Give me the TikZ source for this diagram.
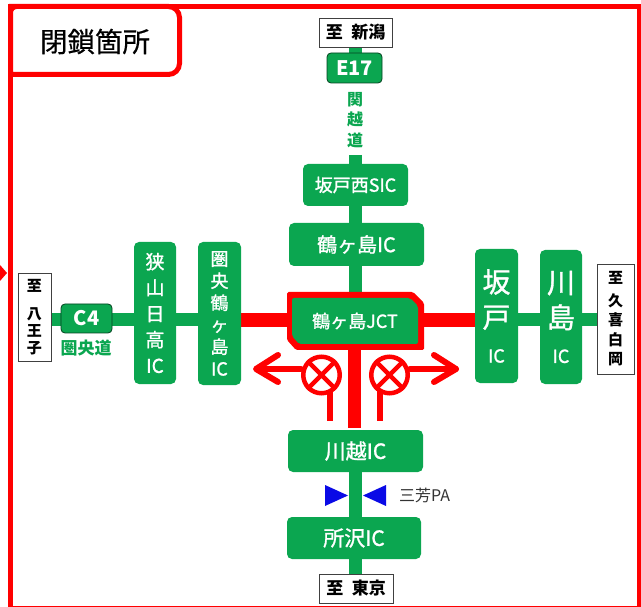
\documentclass[tikz,border=0pt]{standalone}
\usepackage{fontspec}
\setmainfont{Noto Sans CJK JP}
\newfontfamily\medfont[FakeBold=1.2]{Noto Sans CJK JP}
\newfontfamily\titlefont[FakeBold=0.5]{Noto Sans CJK JP}
\usetikzlibrary{backgrounds,arrows.meta}
\definecolor{road}{HTML}{0BA650}
\definecolor{closed}{HTML}{FF0000}
\definecolor{pa}{HTML}{0A0AE6}
\tikzset{
  x=1pt,y=-1pt,
  ic/.style={fill=road,rounded corners=5pt,text=white,inner sep=0pt,align=center,font=\medfont\fontsize{20}{22}\selectfont},
  jctlabel/.style={text=white,inner sep=0pt,align=center,font=\medfont\fontsize{18}{20}\selectfont},
  dest/.style={draw=black!75,fill=white,line width=.8pt,inner sep=0pt,align=center,text=black,font=\bfseries\fontsize{17}{18}\selectfont},
  shield/.style={fill=road,draw=black!60!road,line width=.8pt,rounded corners=4pt,text=white,inner sep=0pt,font=\bfseries\fontsize{20}{22}\selectfont},
  roadlink/.style={road,line width=13pt},
  redlink/.style={closed,line width=14pt},
  redthin/.style={closed,line width=6pt},
  redarrow/.style={closed,line width=6pt,line cap=round,line join=round},
  closure/.style={circle,draw=closed,line width=4.5pt,fill=white,minimum size=36.5pt,inner sep=0pt},
  roadname/.style={text=road,inner sep=0pt,align=center,font=\bfseries\fontsize{16}{20.5}\selectfont},
}
\newcommand{\boxat}[6]{\node[#1,minimum width=#4pt-#2pt,minimum height=#5pt-#3pt] (#6) at ({(#2+#4)/2},{(#3+#5)/2})}
\begin{document}
\begin{tikzpicture}
\useasboundingbox (0,0) rectangle (641,607);
% frame
\draw[closed,line width=5pt] (10.5,6.5) -- (639,6.5) -- (639,608) -- (10.5,608) -- cycle;
\fill[closed] (0,265) -- (7,273) -- (0,281) -- cycle;
\draw[closed,line width=5pt,fill=white,rounded corners=11pt] (10.5,74.5) -- (179.5,74.5) -- (179.5,6.5) -- (20,6.5) [rounded corners=6pt] -- (10.5,6.5) [sharp corners] -- cycle;
\node[inner sep=0pt,font=\titlefont\fontsize{27.5}{30}\selectfont,text=black] (titletext) at (95,41.5) {閉鎖箇所};

% nodes
\boxat{dest}{319}{18}{392}{47}{niigata} {至\hspace{.5em}新潟};
\boxat{shield}{327}{53}{382}{83}{e17} {E17};
\node[roadname] (kanetsu) at (355,120) {関\\越\\道};
\boxat{ic,font=\medfont\fontsize{18}{20}\selectfont}{303}{164}{408}{206}{sakadonishi} {坂戸西SIC};
\boxat{ic}{289}{223}{424}{266}{tsurugashima} {鶴ヶ島IC};
\boxat{ic,font=\medfont\fontsize{19}{26}\selectfont}{134}{242}{176}{384}{sayama} {狭\\山\\日\\高\\IC};
\boxat{ic,font=\medfont\fontsize{18}{22}\selectfont}{198}{242}{241}{385}{kenotsuru} {圏\\央\\鶴\\ヶ\\島\\IC};
\boxat{ic,font=\medfont\fontsize{28}{35}\selectfont}{475}{249}{518}{383}{sakado} {坂\\戸\\{\fontsize{18}{20}\selectfont IC}};
\boxat{ic,font=\medfont\fontsize{28}{35}\selectfont}{540}{250}{582}{384}{kawajima} {川\\島\\{\fontsize{18}{20}\selectfont IC}};
\boxat{dest,font=\bfseries\fontsize{15}{17}\selectfont}{18}{273}{51}{361}{hachioji} {至\\[11pt]八\\王\\子};
\boxat{dest,font=\bfseries\fontsize{15}{19.5}\selectfont}{597}{264}{634}{374}{kuki} {至\\[3pt]久\\喜\\白\\岡};
\boxat{shield}{61}{304}{112}{333}{c4} {C4};
\node[roadname,font=\bfseries\fontsize{17}{19}\selectfont] (kenodo) at (86,348) {圏央道};
\node[jctlabel] (jct) at (355,321) {鶴ヶ島JCT};
\boxat{ic,font=\medfont\fontsize{21}{23}\selectfont}{288}{430}{423}{472}{kawagoe} {川越IC};
\boxat{ic,font=\medfont\fontsize{21}{23}\selectfont}{287}{517}{421}{559}{tokorozawa} {所沢IC};
\boxat{dest}{319}{574}{393}{603}{tokyo} {至\hspace{.5em}東京};
\node[inner sep=0pt,font=\fontsize{16}{18}\selectfont,text=black!80] (miyoshi) at (424.5,495) {三芳PA};

\coordinate (jctl) at (287,320);
\coordinate (jctr) at (424,320);
\coordinate (jctb) at (354.5,350);
\coordinate (redend) at (354.5,428);

% closures
\node[closure] (closeL) at (321.5,375) {};
\node[closure] (closeR) at (389.5,375) {};
\draw[closed,line width=4.5pt] (closeL.45) -- (closeL.225) (closeL.135) -- (closeL.315);
\draw[closed,line width=4.5pt] (closeR.45) -- (closeR.225) (closeR.135) -- (closeR.315);

% PA markers
\fill[pa] (325,485) -- (348,495.5) -- (325,506) -- cycle;
\fill[pa] (386,485) -- (363,495.5) -- (386,506) -- cycle;

\begin{scope}[on background layer]
  % green roads
  \draw[roadlink] (niigata.south -| 355,0) -- (e17.north -| 355,0);
  \draw[roadlink] (355,155) -- (sakadonishi.north -| 355,0);
  \draw[roadlink] (sakadonishi.south -| 355,0) -- (tsurugashima.north -| 355,0);
  \draw[roadlink] (tsurugashima.south -| 355,0) -- (355,292);
  \draw[roadlink] (kawagoe.south -| 355,0) -- (tokorozawa.north -| 355,0);
  \draw[roadlink] (tokorozawa.south -| 355,0) -- (tokyo.north -| 355,0);
  \draw[roadlink] (hachioji.east |- 0,320) -- (c4.west |- 0,320);
  \draw[roadlink] (c4.east |- 0,320) -- (sayama.west |- 0,320);
  \draw[roadlink] (sayama.east |- 0,320) -- (kenotsuru.west |- 0,320);
  \draw[roadlink] (sakado.east |- 0,320) -- (kawajima.west |- 0,320);
  \draw[roadlink] (kawajima.east |- 0,320) -- (kuki.west |- 0,320);
  % closed roads
  \draw[redlink] (kenotsuru.east |- jctl) -- (jctl);
  \draw[redlink] (jctr) -- (sakado.west |- jctr);
  \draw[redlink,line width=13pt] (jctb) -- (redend);
  % JCT block
  \fill[closed,rounded corners=1.5pt] (287,292) -- (413,292) -- (424,303) -- (424,350) -- (296,350) -- (287,340) -- cycle;
  \fill[road,rounded corners=2pt] (292,298) -- (410,298) -- (418,306) -- (418,344) -- (299,344) -- (292,336) -- cycle;
\end{scope}

% closed ramps
\draw[redthin] ([yshift=6pt]closeL.south -| 329.5,0) -- (329.5,421);
\draw[redthin] ([yshift=6pt]closeR.south -| 380,0) -- (380,421);
\draw[redarrow] (closeL.west |- 0,369) -- (257,369);
\draw[redarrow] (278,355) -- (256,369) -- (278,382);
\draw[redarrow] (closeR.east |- 0,369) -- (456,369);
\draw[redarrow] (434,355) -- (456,369) -- (434,382);
\end{tikzpicture}
\end{document}
